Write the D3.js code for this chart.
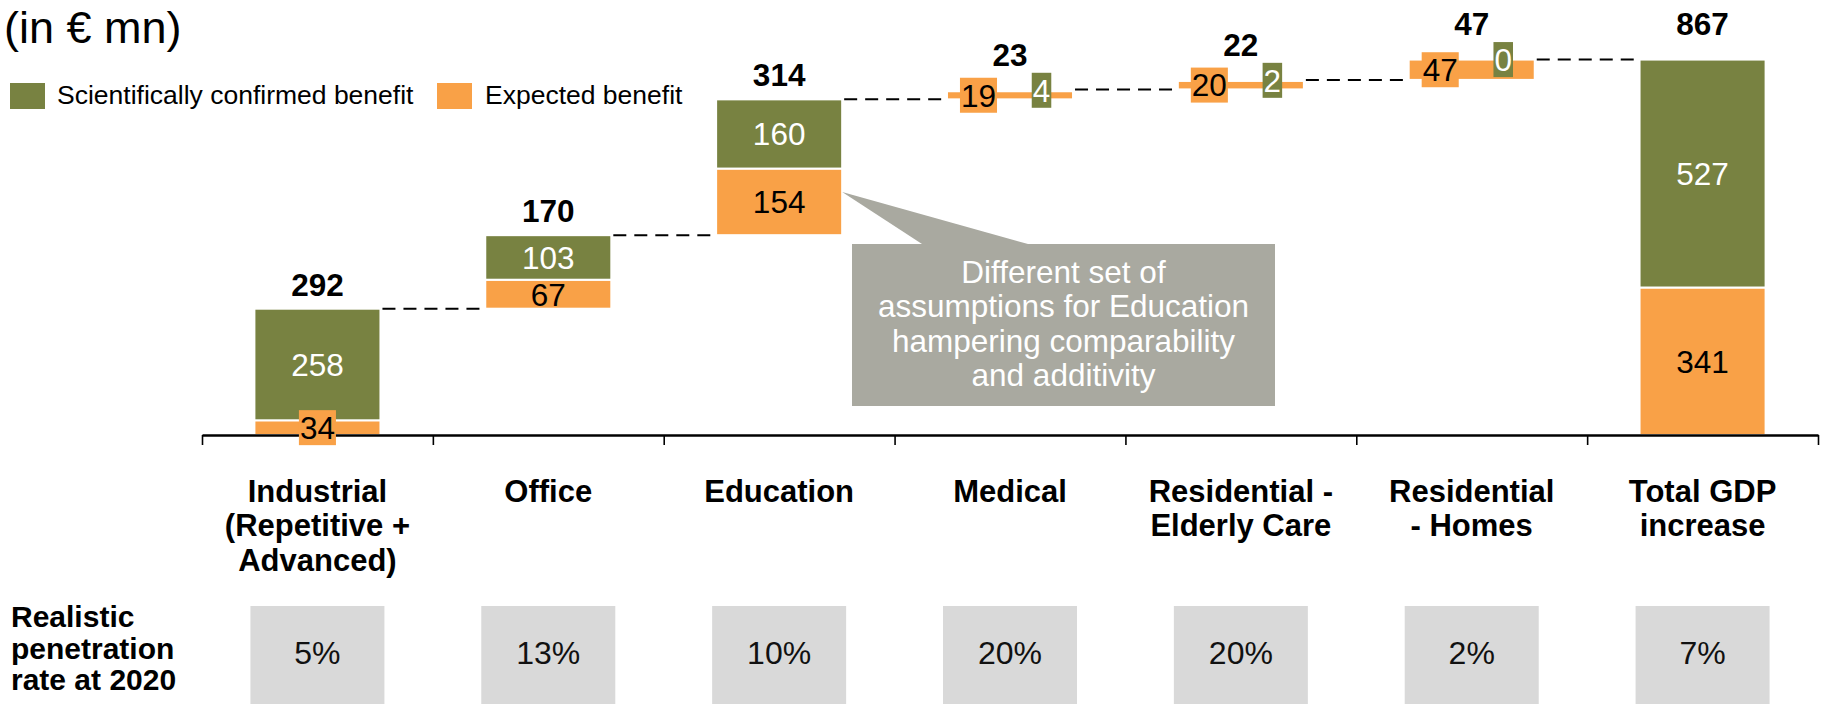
<!DOCTYPE html>
<html>
<head>
<meta charset="utf-8">
<script src="https://cdn.jsdelivr.net/npm/d3@7"></script>
<style>
  body { margin: 0; background: #fff; }
  svg { display: block; }
  text { font-family: "Liberation Sans", Arial, Helvetica, sans-serif; }
</style>
</head>
<body>
<div id="chart"></div>
<script>
// data (in € mn)
const categoryLines = [
  ["Industrial", "(Repetitive +", "Advanced)"],
  ["Office"],
  ["Education"],
  ["Medical"],
  ["Residential -", "Elderly Care"],
  ["Residential", "- Homes"],
  ["Total GDP", "increase"]
];
const confirmed = [258, 103, 160, 4, 2, 0, 527];   // green
const expected = [34, 67, 154, 19, 20, 47, 341];   // orange
const totalLabels = [292, 170, 314, 23, 22, 47, 867];
const penetration = ["5%", "13%", "10%", "20%", "20%", "2%", "7%"];
const rowLabel = ["Realistic", "penetration", "rate at 2020"];
const noteLines = ["Different set of", "assumptions for Education", "hampering comparability", "and additivity"];
const legendItems = ["Scientifically confirmed benefit", "Expected benefit"];

const GREEN = "#788241";
const ORANGE = "#f9a147";
const NOTE = "#a9a9a0";

const width = 1825, height = 704;
const n = categoryLines.length;

const svg = d3.select("#chart").append("svg")
  .attr("width", width)
  .attr("height", height);

// scales
const x = d3.scaleBand().domain(d3.range(n)).range([202, 1818]).padding(0);
const y = d3.scaleLinear().domain([0, 867]).range([435, 60]);
const barW = x.bandwidth() * 0.546;
const cx = i => x(i) + x.bandwidth() / 2;

// waterfall bases
let running = 0;
const rows = categoryLines.map((c, i) => {
  const isTotal = i === n - 1;
  const base = isTotal ? 0 : running;
  const e1 = base + expected[i];
  const g1 = e1 + confirmed[i];
  if (!isTotal) running = g1;
  return { i, base, e1, g1 };
});

// title + legend
svg.append("text").attr("x", 4).attr("y", 43)
  .style("font-size", "45px").text("(in € mn)");

const legend = svg.append("g");
[[10, 57, GREEN], [437, 485, ORANGE]].forEach((p, k) => {
  legend.append("rect").attr("x", p[0]).attr("y", 83).attr("width", 35).attr("height", 26).attr("fill", p[2]);
  legend.append("text").attr("x", p[1]).attr("y", 104).style("font-size", "26.5px").text(legendItems[k]);
});

// segments
const segs = [];
rows.forEach(r => {
  segs.push({ i: r.i, lo: r.base, hi: r.e1, v: expected[r.i], color: ORANGE, txt: "#000", kind: "e" });
  segs.push({ i: r.i, lo: r.e1, hi: r.g1, v: confirmed[r.i], color: GREEN, txt: "#fff", kind: "g" });
});

svg.append("g").selectAll("rect")
  .data(segs)
  .join("rect")
  .attr("x", d => cx(d.i) - barW / 2)
  .attr("y", d => y(d.hi))
  .attr("width", barW)
  .attr("height", d => y(d.lo) - y(d.hi))
  .attr("fill", d => d.color)
  .attr("stroke", "#fff")
  .attr("stroke-width", 2);

// dashed connectors
const conn = d3.range(n - 1).map(i => ({ i, v: rows[i].g1 }));
svg.append("g").selectAll("line")
  .data(conn)
  .join("line")
  .attr("x1", d => cx(d.i) + barW / 2 + 2)
  .attr("x2", d => cx(d.i + 1) - barW / 2 - 1)
  .attr("y1", d => y(d.v))
  .attr("y2", d => y(d.v))
  .attr("stroke", "#000")
  .attr("stroke-width", 2)
  .attr("stroke-dasharray", "13,8");

// axis
const xi = d3.scaleLinear().domain([0, n]).range([202, 1818]);
const axis = svg.append("g")
  .attr("transform", "translate(0,435)")
  .call(d3.axisBottom(xi).tickValues(d3.range(n + 1)).tickSize(10).tickSizeOuter(0).tickFormat(""));
axis.select(".domain").attr("stroke", "#000").attr("stroke-width", 2.4);
axis.selectAll(".tick line").attr("stroke", "#000").attr("stroke-width", 1.6);

// segment labels
const FS = 31.5, BOXH = 35, SMALL = 22;
const labelG = svg.append("g");
const boxTops = {};
segs.forEach(d => {
  const h = y(d.lo) - y(d.hi);
  const other = segs.find(s => s.i === d.i && s.kind !== d.kind);
  const otherH = y(other.lo) - y(other.hi);
  const small = h < SMALL;
  const pair = small && otherH < SMALL;
  let px = cx(d.i);
  if (pair) px = cx(d.i) - barW / 2 + barW * (d.kind === "e" ? 0.25 : 0.75);
  const py = (y(d.lo) + y(d.hi)) / 2;
  const g = labelG.append("g");
  const t = g.append("text")
    .attr("x", px).attr("y", py).attr("dy", "0.36em")
    .attr("text-anchor", "middle")
    .attr("fill", d.txt)
    .style("font-size", FS + "px")
    .text(d.v);
  if (small) {
    const w = t.node().getComputedTextLength() + 2;
    g.insert("rect", "text")
      .attr("x", px - w / 2).attr("y", py - BOXH / 2)
      .attr("width", w).attr("height", BOXH)
      .attr("fill", d.color);
    boxTops[d.i] = Math.min(boxTops[d.i] ?? 1e9, py - BOXH / 2);
  }
});

// total labels above columns
let prevY = 1e9;
rows.forEach(r => {
  let ly = y(r.g1) - 13;
  if (boxTops[r.i] !== undefined) ly = Math.min(ly, boxTops[r.i] - 7);
  if (r.i === n - 1) ly = Math.min(ly, prevY);
  prevY = ly;
  svg.append("text")
    .attr("x", cx(r.i)).attr("y", ly)
    .attr("text-anchor", "middle")
    .style("font-size", "31.5px").style("font-weight", "bold")
    .text(totalLabels[r.i]);
});

// callout for Education
const eduRow = rows[2];
const tipX = cx(2) + barW / 2;
const tipY = y(eduRow.base + expected[2] * 0.65);
const box = { x0: 852, x1: 1275, y0: 244, y1: 406 };
const note = svg.append("g");
note.append("path")
  .attr("d", `M${tipX},${tipY}L${922},${box.y0}L${1028},${box.y0}Z`)
  .attr("fill", NOTE);
note.append("rect")
  .attr("x", box.x0).attr("y", box.y0)
  .attr("width", box.x1 - box.x0).attr("height", box.y1 - box.y0)
  .attr("fill", NOTE);
note.append("text")
  .attr("text-anchor", "middle")
  .attr("fill", "#fff")
  .style("font-size", "31.5px")
  .selectAll("tspan")
  .data(noteLines)
  .join("tspan")
  .attr("x", (box.x0 + box.x1) / 2)
  .attr("y", (d, k) => 283 + k * 34.3)
  .text(d => d);

// category labels
svg.append("g").selectAll("text")
  .data(categoryLines)
  .join("text")
  .attr("text-anchor", "middle")
  .style("font-size", "31px").style("font-weight", "bold")
  .each(function (lines, i) {
    d3.select(this).selectAll("tspan")
      .data(lines)
      .join("tspan")
      .attr("x", cx(i))
      .attr("y", (d, k) => 502 + k * 34.3)
      .text(d => d);
  });

// penetration row
svg.append("text")
  .style("font-size", "30px").style("font-weight", "bold")
  .selectAll("tspan")
  .data(rowLabel)
  .join("tspan")
  .attr("x", 11)
  .attr("y", (d, k) => 627 + k * 31.5)
  .text(d => d);

const pen = svg.append("g").selectAll("g")
  .data(penetration)
  .join("g");
pen.append("rect")
  .attr("x", (d, i) => cx(i) - 67)
  .attr("y", 606)
  .attr("width", 134)
  .attr("height", height - 606)
  .attr("fill", "#d9d9d9");
pen.append("text")
  .attr("x", (d, i) => cx(i))
  .attr("y", 664)
  .attr("text-anchor", "middle")
  .attr("fill", "#111")
  .style("font-size", "32px")
  .text(d => d);
</script>
</body>
</html>
